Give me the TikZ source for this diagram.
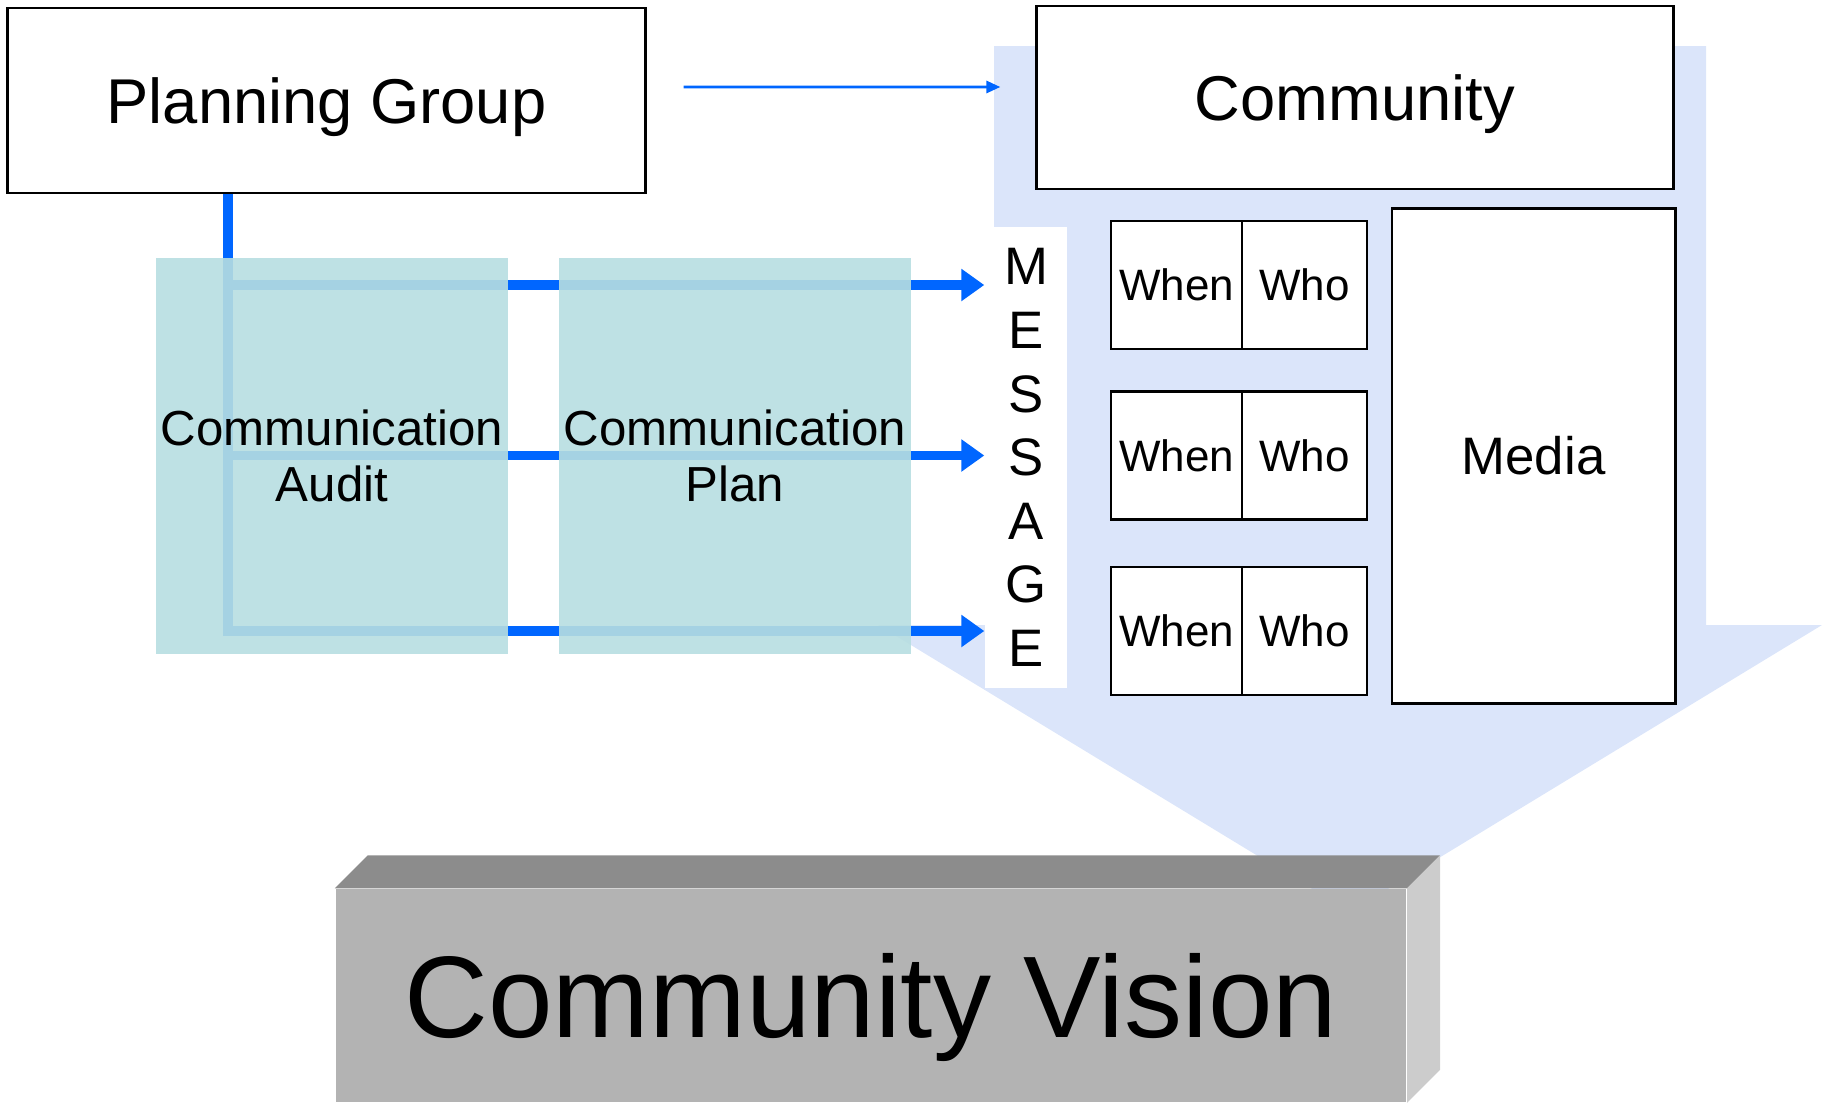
\documentclass[tikz,border=0pt]{standalone}
\usepackage{fontspec}
\setmainfont{Liberation Sans}
\usetikzlibrary{arrows.meta}

\definecolor{linkblue}{RGB}{0,102,255}
\definecolor{auditfill}{RGB}{183,222,225}
\definecolor{flowfill}{RGB}{219,229,250}
\definecolor{frontgray}{RGB}{179,179,179}
\definecolor{topgray}{RGB}{140,140,140}
\definecolor{sidegray}{RGB}{204,204,204}

\tikzstyle{box} = [draw, line width=0.8pt, fill=white, inner sep=0pt]
\tikzstyle{cell} = [box, minimum height=1.28cm, font=\fontsize{12.5}{15}\selectfont]
\tikzstyle{study} = [fill=auditfill, fill opacity=0.9, text opacity=1, align=center,
  inner sep=0pt, minimum width=3.52cm, minimum height=3.96cm, font=\fontsize{14}{16}\selectfont]
\tikzstyle{feed} = [draw=linkblue, line width=2.6pt, -{Triangle[length=0.23cm,width=0.31cm]}]

\begin{document}
\begin{tikzpicture}[x=0.01cm,y=-0.01cm]
  \useasboundingbox (0,0) rectangle (1822,1106);

  % big down arrow behind everything
  \fill[flowfill] (994,46) -- (1706,46) -- (1706,625) -- (1822,625) -- (1350,912)
    -- (878,625) -- (994,625) -- cycle;

  \node (plan) at (326.5,100.5) [box, minimum width=6.37cm, minimum height=1.85cm,
    text height=12.9pt, text depth=0pt, font=\fontsize{18}{22}\selectfont] {Planning Group};
  \node (comm) at (1355,97.5) [box, minimum width=6.36cm, minimum height=1.83cm,
    text height=12.9pt, text depth=0pt, font=\fontsize{18}{22}\selectfont] {Community};

  \node (msg) at (1026,457.5) [fill=white, inner sep=0pt, minimum width=0.82cm,
    minimum height=4.61cm, align=center, font=\fontsize{15}{18.1}\selectfont]
    {M\\E\\S\\S\\A\\G\\E};

  \node (w1) at (1176.5,285) [cell, minimum width=1.31cm] {When};
  \node (h1) at (1304.5,285) [cell, minimum width=1.25cm] {Who};
  \node (w2) at (1176.5,455.5) [cell, minimum width=1.31cm] {When};
  \node (h2) at (1304.5,455.5) [cell, minimum width=1.25cm] {Who};
  \node (w3) at (1176.5,631) [cell, minimum width=1.31cm] {When};
  \node (h3) at (1304.5,631) [cell, minimum width=1.25cm] {Who};

  \node (media) at (1533.5,456) [box, minimum width=2.83cm, minimum height=4.94cm,
    text height=10.7pt, text depth=0pt, font=\fontsize{15}{18}\selectfont] {Media};

  % blue links from the planning group
  \draw[feed] ([xshift=-0.985cm]plan.south) |- (msg.west |- w3.west);
  \draw[feed] ([xshift=-0.985cm]plan.south |- w1.west) -- (msg.west |- w1.west);
  \draw[feed] ([xshift=-0.985cm]plan.south |- w2.west) -- (msg.west |- w2.west);
  \draw[linkblue, line width=0.8pt, -{Triangle[length=0.14cm,width=0.12cm]}]
    ([xshift=0.37cm,yshift=0.135cm]plan.east) -- ([xshift=-0.35cm,yshift=0.105cm]comm.west);

  \node (audit) at (332,456) [study] {Communication\\Audit};
  \node (cplan) at (735,456) [study] {Communication\\Plan};

  % 3d block
  \node (vision) at (871,995.5) [fill=frontgray, inner sep=0pt, minimum width=10.7cm,
    minimum height=2.13cm, text height=23.6pt, text depth=0pt,
    font=\fontsize{33}{38}\selectfont] {Community Vision};
  \fill[topgray] (vision.north west) -- ++(33,-33) -- ([shift={(33,-33)}]vision.north east)
    -- (vision.north east) -- cycle;
  \fill[sidegray] (vision.north east) -- ++(33,-33) -- ([shift={(33,-33)}]vision.south east)
    -- (vision.south east) -- cycle;
\end{tikzpicture}
\end{document}
